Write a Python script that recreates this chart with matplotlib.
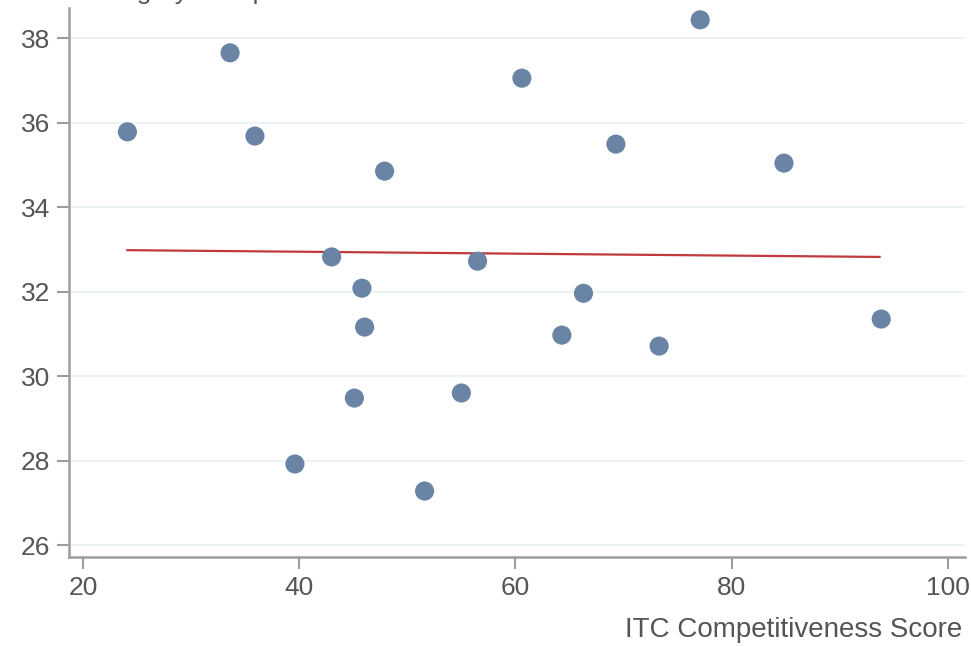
import matplotlib
matplotlib.use("Agg")
import matplotlib.pyplot as plt
import numpy as np

plt.rcParams['font.family'] = ['Liberation Sans', 'DejaVu Sans']

itc_score = [24.1, 33.6, 35.9, 47.9, 60.6, 77.1, 69.3, 84.85, 43.0, 56.5,
             45.8, 46.05, 66.3, 64.3, 73.3, 93.85, 45.1, 55.0, 39.6, 51.6]
y_values = [35.78, 37.65, 35.68, 34.85, 37.05, 38.43, 35.49, 35.04, 32.82, 32.72,
            32.08, 31.16, 31.96, 30.97, 30.71, 31.35, 29.48, 29.60, 27.92, 27.28]
trend_x = [24.1, 93.7]
trend_y = [32.98, 32.82]
x_ticks = [20, 40, 60, 80, 100]
y_ticks = [26, 28, 30, 32, 34, 36, 38]
x_label = "ITC Competitiveness Score"
y_label = "Category of import"

fig = plt.figure(figsize=(9.71, 6.46), dpi=100)
ax = fig.add_axes([0.0711, 0.1378, 0.9227, 0.8498])

spine_c = '#a09c9c'
ax.set_xlim(18.7, 101.6)
ax.set_ylim(25.72, 38.71)
ax.set_yticks(y_ticks)
ax.set_xticks(x_ticks)
ax.grid(axis='y', color='#e8f1f2', linewidth=1.2)
ax.set_axisbelow(True)
for s in ['top', 'right']:
    ax.spines[s].set_visible(False)
for s in ['left', 'bottom']:
    ax.spines[s].set_color(spine_c)
    ax.spines[s].set_linewidth(1.8)
ax.tick_params(axis='both', colors=spine_c, width=1.5, length=8.5,
               labelsize=19, labelcolor='#555555', pad=5)

ax.plot(trend_x, trend_y, color='#c0393b', linewidth=1.6, zorder=2)
ax.scatter(itc_score, y_values, s=190, color='#6a84a5', edgecolors='none', zorder=3)

fig.text(0.9907, 0.0139, x_label, ha='right', va='baseline', fontsize=20, color='#555555')
fig.text(0.083, 1.0 + 0.002, y_label, ha='left', va='baseline', fontsize=19, color='#555555')

fig.savefig("out.png", dpi=100)
